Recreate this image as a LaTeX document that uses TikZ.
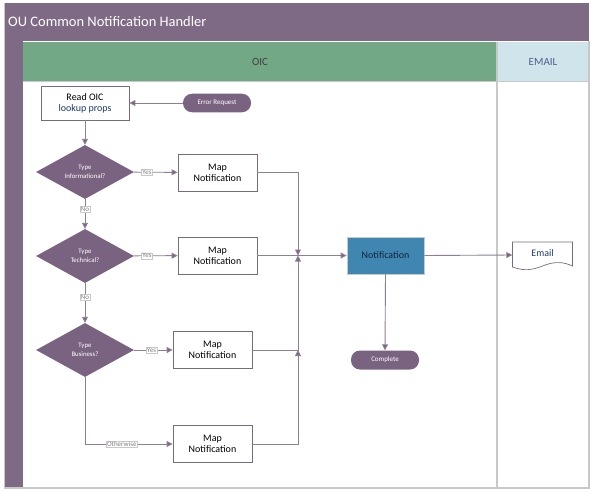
\documentclass[tikz,border=0pt]{standalone}
\usepackage{fontspec}
\setmainfont{Carlito}
\usetikzlibrary{arrows.meta,shapes.geometric,calc}
\definecolor{lanepurple}{HTML}{7F6A85}
\definecolor{diapurple}{HTML}{7A6380}
\definecolor{oicgreen}{HTML}{72A886}
\definecolor{emailblue}{HTML}{D0E4EC}
\definecolor{notifblue}{HTML}{3F87B0}
\definecolor{linec}{HTML}{8F7F96}
\definecolor{framegray}{HTML}{C8C8C8}
\definecolor{boxborder}{HTML}{7A6A80}
\definecolor{textblue}{HTML}{1F3A6E}
\tikzset{
  procbox/.style={draw=boxborder, line width=0.8pt, fill=white, minimum width=79pt, minimum height=37pt, align=center, font=\fontsize{10}{11}\selectfont, inner sep=1pt},
  decision/.style={diamond, fill=diapurple, draw=none, minimum width=98pt, minimum height=54pt, aspect=1.8, inner sep=0pt, align=center, text=white, font=\fontsize{6.8}{9}\selectfont},
  pill/.style={rounded corners=9pt, fill=diapurple, draw=none, minimum width=68pt, minimum height=18.5pt, text=white, font=\fontsize{7}{8}\selectfont, inner sep=1pt},
  conn/.style={draw=linec, line width=0.9pt, -{Triangle[length=6pt,width=6pt,fill=diapurple]}},
  plain/.style={draw=linec, line width=0.9pt},
  elabel/.style={fill=white, draw=framegray, line width=0.3pt, text=gray, font=\fontsize{7}{7.5}\selectfont, inner sep=0.8pt}
}
\begin{document}
\begin{tikzpicture}[x=1pt,y=-1pt]
\useasboundingbox (0,0) rectangle (593,492);
% frame & lanes
\fill[white] (0,0) rectangle (593,492);
\fill[lanepurple] (4,3) rectangle (589,41);
\fill[lanepurple] (4,41) rectangle (23,488);
\fill[oicgreen] (23,42) rectangle (497,81);
\fill[emailblue] (497,42) rectangle (589,81);
\draw[framegray, line width=1.2pt] (4,488) -- (589,488) -- (589,41);
\draw[framegray, line width=1.2pt] (497,42) -- (497,488);
\draw[framegray, line width=0.8pt] (23,81) -- (589,81);
\draw[framegray, line width=0.8pt] (4,3) -- (4,488);
\node[anchor=west, text=white, font=\fontsize{14.5}{16}\selectfont, inner sep=0pt] (title) at (8,22) {OU Common Notification Handler};
\node[font=\fontsize{11}{12}\selectfont, text=black!75] (oic) at (260,61.5) {OIC};
\node[font=\fontsize{11}{12}\selectfont, text=textblue!80] (emailhdr) at (543,61.5) {EMAIL};

% nodes
\node[procbox, minimum width=88pt, minimum height=34pt] (read) at (85,103) {Read OIC\\\textcolor{textblue}{lookup props}};
\node[pill] (err) at (217,103) {Error Request};
\node[decision] (d1) at (85,172) {Type\\Informational?};
\node[decision] (d2) at (85,256) {Type\\Technical?};
\node[decision] (d3) at (85,350) {Type\\Business?};
\node[procbox] (m1) at (217.5,172.5) {Map\\Notification};
\node[procbox] (m2) at (217.5,255.5) {Map\\Notification};
\node[procbox] (m3) at (212.5,350) {Map\\Notification};
\node[procbox] (m4) at (212.5,444) {Map\\Notification};
\node[procbox, fill=notifblue, draw=framegray, minimum width=77pt, text=textblue!60!black] (notif) at (385.5,255.5) {Notification};
\node[pill, minimum width=68pt, minimum height=19pt] (complete) at (385,360) {Complete};
\node[minimum width=60pt, minimum height=26pt, inner sep=0pt] (email) at (542.5,255) {};
\draw[boxborder, line width=0.7pt, fill=white] (512.5,242) -- (572.5,242) -- (572.5,266)
  .. controls (555,258) and (545,266) .. (535,268.5)
  .. controls (525,271) and (518,269) .. (512.5,267) -- cycle;
\node[font=\fontsize{10}{11}\selectfont, inner sep=0pt, text=textblue] (emailtxt) at (542.5,253) {Email};

% merge points
\coordinate (j1) at (298,172.5);
\coordinate (jm) at (298,255.5);
\coordinate (j3) at (298,350);
\coordinate (j4) at (298,444);
\coordinate (o4) at (85,444);

% connectors
\draw[conn] (err) -- (read);
\draw[conn] (read) -- (d1);
\draw[conn] (d1) -- node[elabel, pos=0.3] {Yes} (m1);
\draw[conn] (d1) -- node[elabel, pos=0.35] {No} (d2);
\draw[conn] (d2) -- node[elabel, pos=0.3] {Yes} (m2);
\draw[conn] (d2) -- node[elabel, pos=0.35] {No} (d3);
\draw[conn] (d3) -- node[elabel, pos=0.45] {Yes} (m3);
\draw[plain] (d3.south) -- (o4);
\draw[conn] (o4) -- node[elabel, pos=0.42] {Otherwise} (m4);
\draw[conn] (m1.east) -- (j1) -- (jm);
\draw[conn] (m2.east) -- (notif.west);
\draw[conn] (m3.east) -- (j3) -- (jm);
\draw[conn] (m4.east) -- (j4) -- (j3);
\draw[conn] (notif.east) -- (email.west);
\draw[conn] (notif.south) -- (complete.north);
\end{tikzpicture}
\end{document}
